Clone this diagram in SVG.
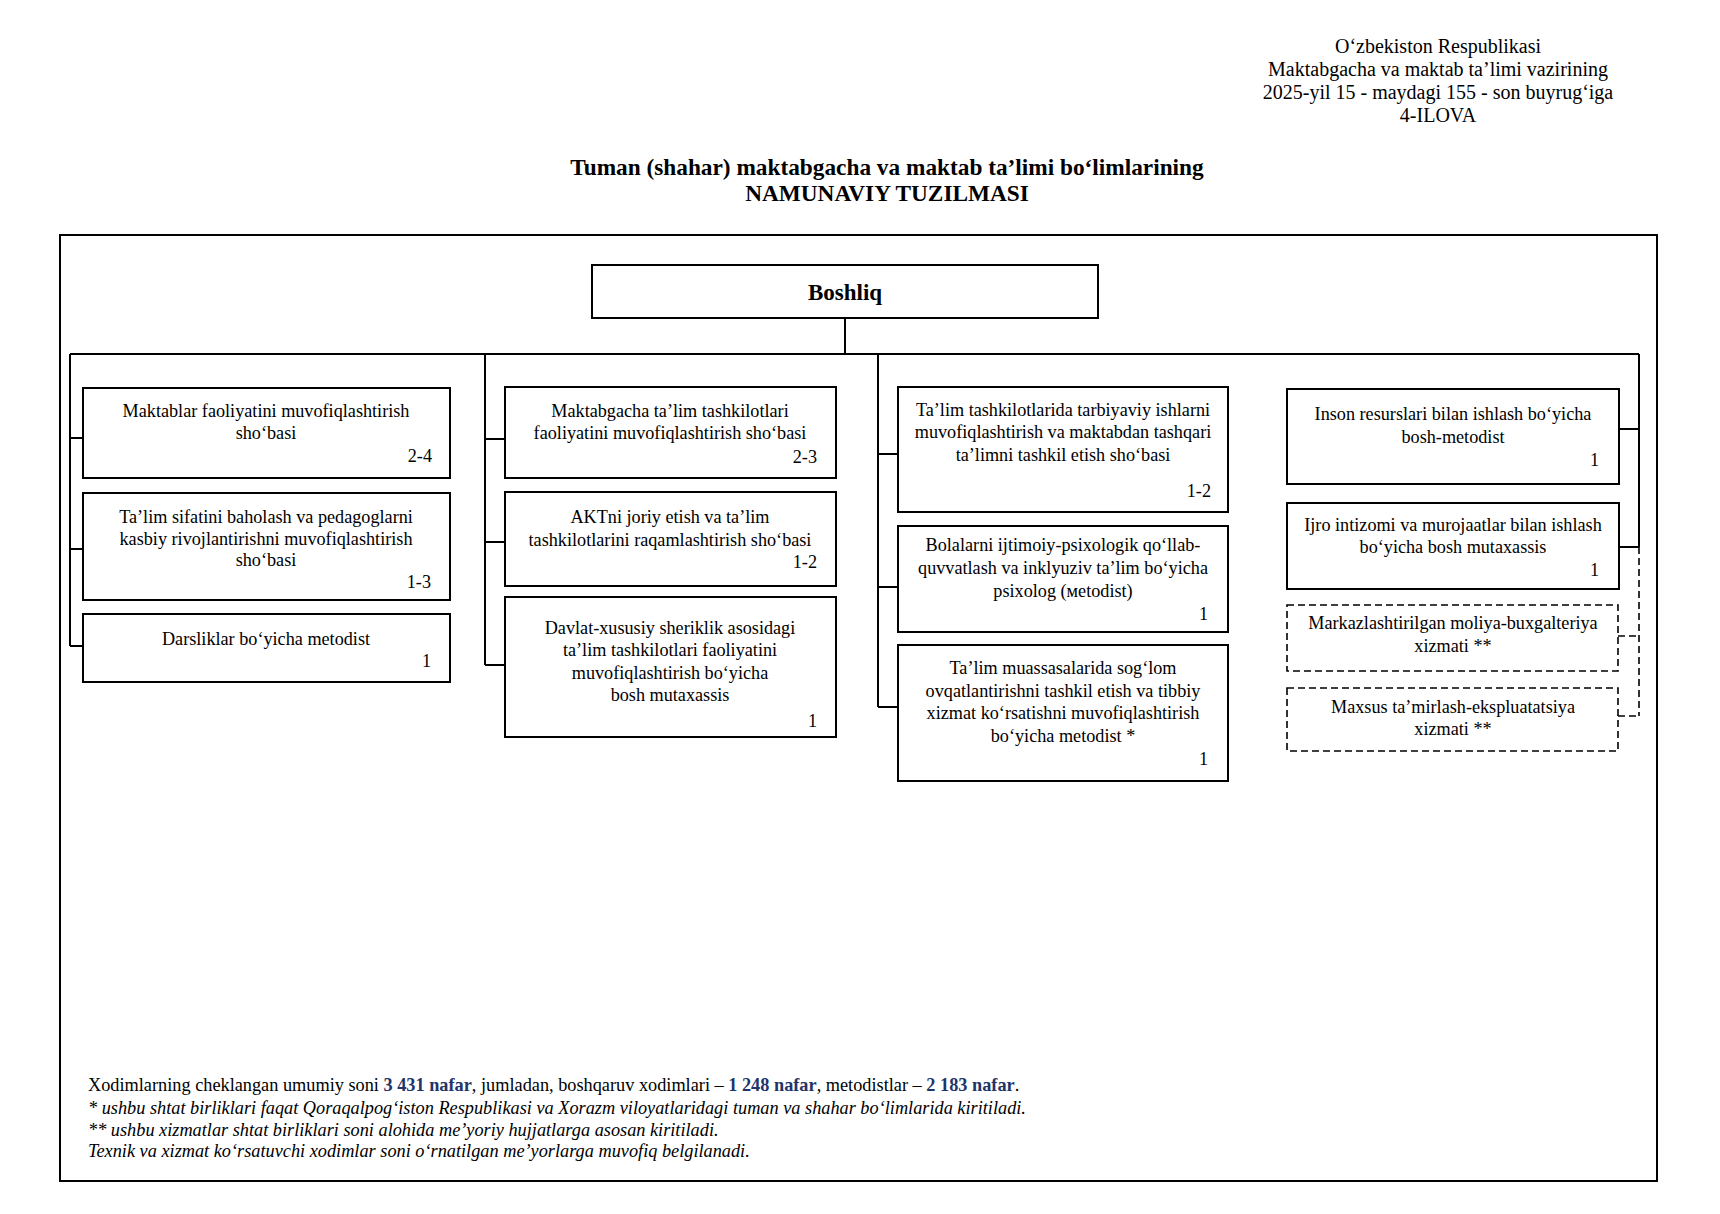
<svg xmlns="http://www.w3.org/2000/svg" width="1720" height="1214" viewBox="0 0 1720 1214">
<style>
text{font-family:"Liberation Serif","Times New Roman",serif;fill:#000;}
.hd{font-size:20px;text-anchor:middle;}
.tt{font-size:23.3px;font-weight:bold;text-anchor:middle;}
.bx{fill:#fff;stroke:#000;stroke-width:2;}
.dbx{fill:#fff;stroke:#000;stroke-width:1.6;stroke-dasharray:7 4;}
.t{font-size:18.2px;text-anchor:middle;}
.n{font-size:18.2px;text-anchor:end;}
.ln{fill:none;stroke:#000;stroke-width:2;}
.dln{fill:none;stroke:#000;stroke-width:1.6;stroke-dasharray:7 4;}
.ft{font-size:18.3px;}
.it{font-style:italic;}
.bl{font-weight:bold;fill:#1f3468;}
</style>
<rect width="1720" height="1214" fill="#fff"/>
<g id="header">
<text class="hd" x="1438" y="53">O‘zbekiston Respublikasi</text>
<text class="hd" x="1438" y="76">Maktabgacha va maktab ta’limi vazirining</text>
<text class="hd" x="1438" y="99">2025-yil 15 - maydagi 155 - son buyrug‘iga</text>
<text class="hd" x="1438" y="122">4-ILOVA</text>
</g>
<g id="title">
<text class="tt" x="887" y="175">Tuman (shahar) maktabgacha va maktab ta’limi bo‘limlarining</text>
<text class="tt" x="887" y="201">NAMUNAVIY TUZILMASI</text>
</g>
<rect id="frame" x="60" y="235" width="1597" height="946" fill="none" stroke="#000" stroke-width="2"/>
<g id="connectors">
<path class="ln" d="M845 318V354M70 354H1639M70 354V646M70 438H82M70 549H82M70 646H82"/>
<path class="ln" d="M485 354V665M485 439H505M485 542H505M485 665H505"/>
<path class="ln" d="M878 354V707M878 454H898M878 587H898M878 707H898"/>
<path class="ln" d="M1639 354V547M1619 429H1639M1619 547H1639"/>
<path class="dln" d="M1639 547V716M1618 636H1639M1618 716H1639"/>
</g>
<g id="boshliq">
<rect class="bx" x="592" y="265" width="506" height="53"/>
<text x="845" y="300" font-size="23" font-weight="bold" text-anchor="middle">Boshliq</text>
</g>
<g id="n1">
<rect class="bx" x="83" y="388" width="367" height="90"/>
<text class="t" x="266" y="417">Maktablar faoliyatini muvofiqlashtirish</text>
<text class="t" x="266" y="439">sho‘basi</text>
<text class="n" x="432" y="462">2-4</text>
</g>
<g id="n2">
<rect class="bx" x="83" y="493" width="367" height="107"/>
<text class="t" x="266" y="523">Ta’lim sifatini baholash va pedagoglarni</text>
<text class="t" x="266" y="545">kasbiy rivojlantirishni muvofiqlashtirish</text>
<text class="t" x="266" y="566">sho‘basi</text>
<text class="n" x="431" y="588">1-3</text>
</g>
<g id="n3">
<rect class="bx" x="83" y="614" width="367" height="68"/>
<text class="t" x="266" y="645">Darsliklar bo‘yicha metodist</text>
<text class="n" x="431" y="667">1</text>
</g>
<g id="n4">
<rect class="bx" x="505" y="387" width="331" height="91"/>
<text class="t" x="670" y="417">Maktabgacha ta’lim tashkilotlari</text>
<text class="t" x="670" y="439">faoliyatini muvofiqlashtirish sho‘basi</text>
<text class="n" x="817" y="463">2-3</text>
</g>
<g id="n5">
<rect class="bx" x="505" y="492" width="331" height="94"/>
<text class="t" x="670" y="523">AKTni joriy etish va ta’lim</text>
<text class="t" x="670" y="546">tashkilotlarini raqamlashtirish sho‘basi</text>
<text class="n" x="817" y="568">1-2</text>
</g>
<g id="n6">
<rect class="bx" x="505" y="597" width="331" height="140"/>
<text class="t" x="670" y="634">Davlat-xususiy sheriklik asosidagi</text>
<text class="t" x="670" y="656">ta’lim tashkilotlari faoliyatini</text>
<text class="t" x="670" y="679">muvofiqlashtirish bo‘yicha</text>
<text class="t" x="670" y="701">bosh mutaxassis</text>
<text class="n" x="817" y="727">1</text>
</g>
<g id="n7">
<rect class="bx" x="898" y="387" width="330" height="125"/>
<text class="t" x="1063" y="416">Ta’lim tashkilotlarida tarbiyaviy ishlarni</text>
<text class="t" x="1063" y="438">muvofiqlashtirish va maktabdan tashqari</text>
<text class="t" x="1063" y="461">ta’limni tashkil etish sho‘basi</text>
<text class="n" x="1211" y="497">1-2</text>
</g>
<g id="n8">
<rect class="bx" x="898" y="526" width="330" height="106"/>
<text class="t" x="1063" y="551">Bolalarni ijtimoiy-psixologik qo‘llab-</text>
<text class="t" x="1063" y="574">quvvatlash va inklyuziv ta’lim bo‘yicha</text>
<text class="t" x="1063" y="597">psixolog (мetodist)</text>
<text class="n" x="1208" y="620">1</text>
</g>
<g id="n9">
<rect class="bx" x="898" y="645" width="330" height="136"/>
<text class="t" x="1063" y="674">Ta’lim muassasalarida sog‘lom</text>
<text class="t" x="1063" y="697">ovqatlantirishni tashkil etish va tibbiy</text>
<text class="t" x="1063" y="719">xizmat ko‘rsatishni muvofiqlashtirish</text>
<text class="t" x="1063" y="742">bo‘yicha metodist *</text>
<text class="n" x="1208" y="765">1</text>
</g>
<g id="n10">
<rect class="bx" x="1287" y="389" width="332" height="95"/>
<text class="t" x="1453" y="420">Inson resurslari bilan ishlash bo‘yicha</text>
<text class="t" x="1453" y="443">bosh-metodist</text>
<text class="n" x="1599" y="466">1</text>
</g>
<g id="n11">
<rect class="bx" x="1287" y="503" width="332" height="86"/>
<text class="t" x="1453" y="531">Ijro intizomi va murojaatlar bilan ishlash</text>
<text class="t" x="1453" y="553">bo‘yicha bosh mutaxassis</text>
<text class="n" x="1599" y="576">1</text>
</g>
<g id="n12">
<rect class="dbx" x="1287" y="605" width="331" height="66"/>
<text class="t" x="1453" y="629">Markazlashtirilgan moliya-buxgalteriya</text>
<text class="t" x="1453" y="652">xizmati **</text>
</g>
<g id="n13">
<rect class="dbx" x="1287" y="688" width="331" height="63"/>
<text class="t" x="1453" y="713">Maxsus ta’mirlash-ekspluatatsiya</text>
<text class="t" x="1453" y="735">xizmati **</text>
</g>
<g id="footer">
<text class="ft" x="88" y="1091">Xodimlarning cheklangan umumiy soni <tspan class="bl">3 431 nafar</tspan>, jumladan, boshqaruv xodimlari – <tspan class="bl">1 248 nafar</tspan>, metodistlar – <tspan class="bl">2 183 nafar</tspan>.</text>
<text class="ft it" x="88" y="1114">* ushbu shtat birliklari faqat Qoraqalpog‘iston Respublikasi va Xorazm viloyatlaridagi tuman va shahar bo‘limlarida kiritiladi.</text>
<text class="ft it" x="88" y="1136">** ushbu xizmatlar shtat birliklari soni alohida me’yoriy hujjatlarga asosan kiritiladi.</text>
<text class="ft it" x="88" y="1157">Texnik va xizmat ko‘rsatuvchi xodimlar soni o‘rnatilgan me’yorlarga muvofiq belgilanadi.</text>
</g>
</svg>
